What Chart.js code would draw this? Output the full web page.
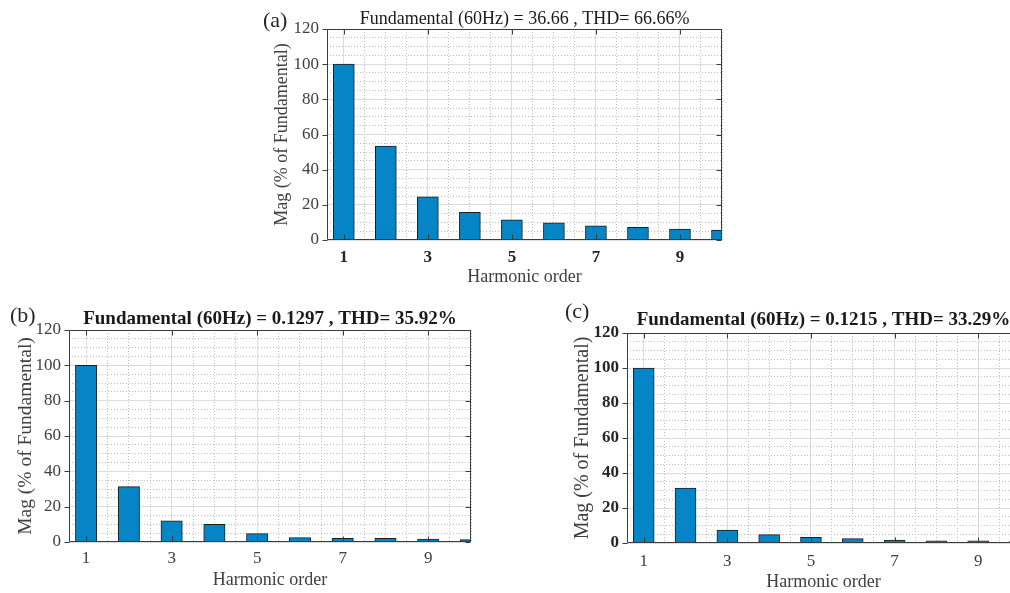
<!DOCTYPE html>
<html>
<head>
<meta charset="utf-8">
<title>Harmonic spectra</title>
<script src="https://cdn.jsdelivr.net/npm/chart.js@4.4.1/dist/chart.umd.min.js"></script>
<style>
  html, body { margin: 0; padding: 0; background: #fff; }
  body { width: 1010px; height: 593px; overflow: hidden; position: relative; }
  canvas { position: absolute; }
</style>
</head>
<body>
<canvas id="chartA" width="480" height="290" style="left:260px;top:0px"></canvas>
<canvas id="chartB" width="490" height="298" style="left:0px;top:295px"></canvas>
<canvas id="chartC" width="470" height="298" style="left:560px;top:295px"></canvas>
<script>
// Donnees
const harmonicOrder = [1, 2, 3, 4, 5, 6, 7, 8, 9, 10];
const magA = [100, 53.4, 24.6, 15.7, 11.5, 9.7, 8.1, 7.2, 6.2, 5.7];
const magB = [100, 31.3, 12.0, 10.0, 4.7, 2.5, 2.1, 2.1, 1.7, 1.3];
const magC = [100, 31.4, 7.4, 4.8, 3.2, 2.5, 1.7, 1.3, 1.3, 1.0];
const xTickLabels = [1, 3, 5, 7, 9];
const yTickLabels = [0, 20, 40, 60, 80, 100, 120];
const panelTitles = [
    'Fundamental (60Hz) = 36.66 , THD= 66.66%',
    'Fundamental (60Hz) = 0.1297 , THD= 35.92%',
    'Fundamental (60Hz) = 0.1215 , THD= 33.29%'
];
const panelLetters = ['(a)', '(b)', '(c)'];

const SERIF = '"Liberation Serif", "Times New Roman", serif';
const barFill = '#0584c6';
const barEdge = '#1e1e1e';
const majorGrid = '#dcdcdc';
const minorGrid = '#bdbdbd';

// positions de grille mineure (pas de 0.5 en x, 5 en y)
const xGridSteps = [];
for (let v = 1; v <= 10; v += 0.5) xGridSteps.push(v);
const yGridSteps = [];
for (let v = 0; v <= 120; v += 5) yGridSteps.push(v);

const isMajorX = v => xTickLabels.includes(v);
const isMajorY = v => yTickLabels.includes(v);

// Cadre, graduations internes, titre et lettre du panneau
const panelDecor = {
    id: 'panelDecor',
    afterDatasetsDraw(chart, args, o) {
        const { ctx, chartArea: a, scales: { x, y } } = chart;
        const L = Math.round(a.left) + 0.5, R = Math.round(a.right) - 0.5;
        const T = Math.round(a.top) + 0.5, B = Math.round(a.bottom) - 0.5;
        ctx.save();
        ctx.strokeStyle = '#3c3c3c';
        ctx.lineWidth = 1;
        ctx.beginPath();
        ctx.rect(L, T, R - L, B - T);
        xTickLabels.forEach(v => {
            const px = Math.round(x.getPixelForValue(v)) + 0.5;
            ctx.moveTo(px, B); ctx.lineTo(px, B - 5);
            ctx.moveTo(px, T); ctx.lineTo(px, T + 5);
        });
        yTickLabels.forEach(v => {
            const py = Math.round(y.getPixelForValue(v)) + 0.5;
            ctx.moveTo(L - 5, py); ctx.lineTo(L, py);
            ctx.moveTo(R, py); ctx.lineTo(R - 5, py);
        });
        ctx.stroke();
        ctx.restore();
    },
    afterDraw(chart, args, o) {
        const { ctx, chartArea: a } = chart;
        ctx.save();
        ctx.fillStyle = '#1a1a1a';
        ctx.textBaseline = 'alphabetic';
        ctx.textAlign = 'center';
        ctx.font = `${o.titleWeight} ${o.titleSize}px ${SERIF}`;
        ctx.fillText(o.title, (a.left + a.right) / 2, a.top - o.titleGap);
        ctx.textAlign = 'left';
        ctx.fillStyle = '#262626';
        ctx.font = `normal ${o.letterSize}px ${SERIF}`;
        ctx.fillText(o.letter, o.letterX, o.letterY);
        ctx.restore();
    }
};

function buildPanel(canvasId, values, look) {
    return new Chart(document.getElementById(canvasId), {
        type: 'bar',
        data: {
            datasets: [{
                data: harmonicOrder.map((h, i) => ({ x: h, y: values[i] })),
                backgroundColor: barFill,
                borderColor: barEdge,
                borderWidth: 1,
                // la grille tous les 0.5 fixe le pas minimal : barre = 0.5 unite
                barPercentage: 1,
                categoryPercentage: 1,
                clip: 0
            }]
        },
        options: {
            responsive: false,
            animation: false,
            devicePixelRatio: 1,
            layout: { padding: look.padding },
            plugins: {
                legend: { display: false },
                tooltip: { enabled: false },
                panelDecor: look
            },
            scales: {
                x: {
                    type: 'linear',
                    min: 0.6,
                    max: 10,
                    offset: false,
                    afterBuildTicks: s => { s.ticks = xGridSteps.map(v => ({ value: v })); },
                    afterFit: s => { s.height = look.xHeight; },
                    ticks: {
                        autoSkip: false,
                        maxRotation: 0,
                        padding: look.xTickPad,
                        color: look.xTickColor,
                        font: { family: SERIF, size: 17, weight: look.xTickWeight },
                        callback: v => isMajorX(v) ? String(v) : ''
                    },
                    grid: {
                        offset: false,
                        drawTicks: false,
                        lineWidth: 1,
                        color: c => (c.tick && isMajorX(c.tick.value)) ? majorGrid : minorGrid
                    },
                    border: {
                        display: false,
                        dash: c => (c.tick && !isMajorX(c.tick.value)) ? [1, 2] : []
                    },
                    title: {
                        display: true,
                        text: 'Harmonic order',
                        color: '#404040',
                        font: { family: SERIF, size: 18 },
                        padding: { top: 0, bottom: look.xTitlePad }
                    }
                },
                y: {
                    min: 0,
                    max: 120,
                    afterBuildTicks: s => { s.ticks = yGridSteps.map(v => ({ value: v })); },
                    afterFit: s => { s.width = look.yWidth; },
                    ticks: {
                        autoSkip: false,
                        padding: 8,
                        color: look.yTickColor,
                        font: { family: SERIF, size: 17, weight: look.yTickWeight },
                        callback: v => isMajorY(v) ? String(v) : ''
                    },
                    grid: {
                        drawTicks: false,
                        lineWidth: 1,
                        color: c => (c.tick && isMajorY(c.tick.value)) ? majorGrid : minorGrid
                    },
                    border: {
                        display: false,
                        dash: c => (c.tick && !isMajorY(c.tick.value)) ? [1, 2] : []
                    },
                    title: {
                        display: true,
                        text: 'Mag (% of Fundamental)',
                        color: '#404040',
                        font: { family: SERIF, size: look.yTitleSize },
                        padding: { top: look.yTitlePad, bottom: 0 }
                    }
                }
            }
        },
        plugins: [panelDecor]
    });
}

buildPanel('chartA', magA, {
    padding: { top: 29, right: 18, bottom: 0, left: 0 },
    xHeight: 50, yWidth: 67,
    xTickPad: 7, xTitlePad: 2, yTitlePad: 11, yTitleSize: 18,
    xTickColor: '#262626', xTickWeight: 'bold',
    yTickColor: '#404040', yTickWeight: 'normal',
    title: panelTitles[0], titleWeight: 'normal', titleSize: 18, titleGap: 5,
    letter: panelLetters[0], letterSize: 22, letterX: 3, letterY: 27
});

buildPanel('chartB', magB, {
    padding: { top: 35, right: 19, bottom: 0, left: 0 },
    xHeight: 51, yWidth: 69,
    xTickPad: 6, xTitlePad: 2, yTitlePad: 14, yTitleSize: 19.5,
    xTickColor: '#404040', xTickWeight: 'normal',
    yTickColor: '#404040', yTickWeight: 'normal',
    title: panelTitles[1], titleWeight: 'bold', titleSize: 19, titleGap: 6,
    letter: panelLetters[1], letterSize: 22, letterX: 10, letterY: 27
});

buildPanel('chartC', magC, {
    padding: { top: 38, right: 10, bottom: 0, left: 0 },
    xHeight: 50, yWidth: 67,
    xTickPad: 8, xTitlePad: 0, yTitlePad: 11, yTitleSize: 20,
    xTickColor: '#404040', xTickWeight: 'normal',
    yTickColor: '#262626', yTickWeight: 'bold',
    title: panelTitles[2], titleWeight: 'bold', titleSize: 19, titleGap: 8,
    letter: panelLetters[2], letterSize: 22, letterX: 5, letterY: 23
});
</script>
</body>
</html>
